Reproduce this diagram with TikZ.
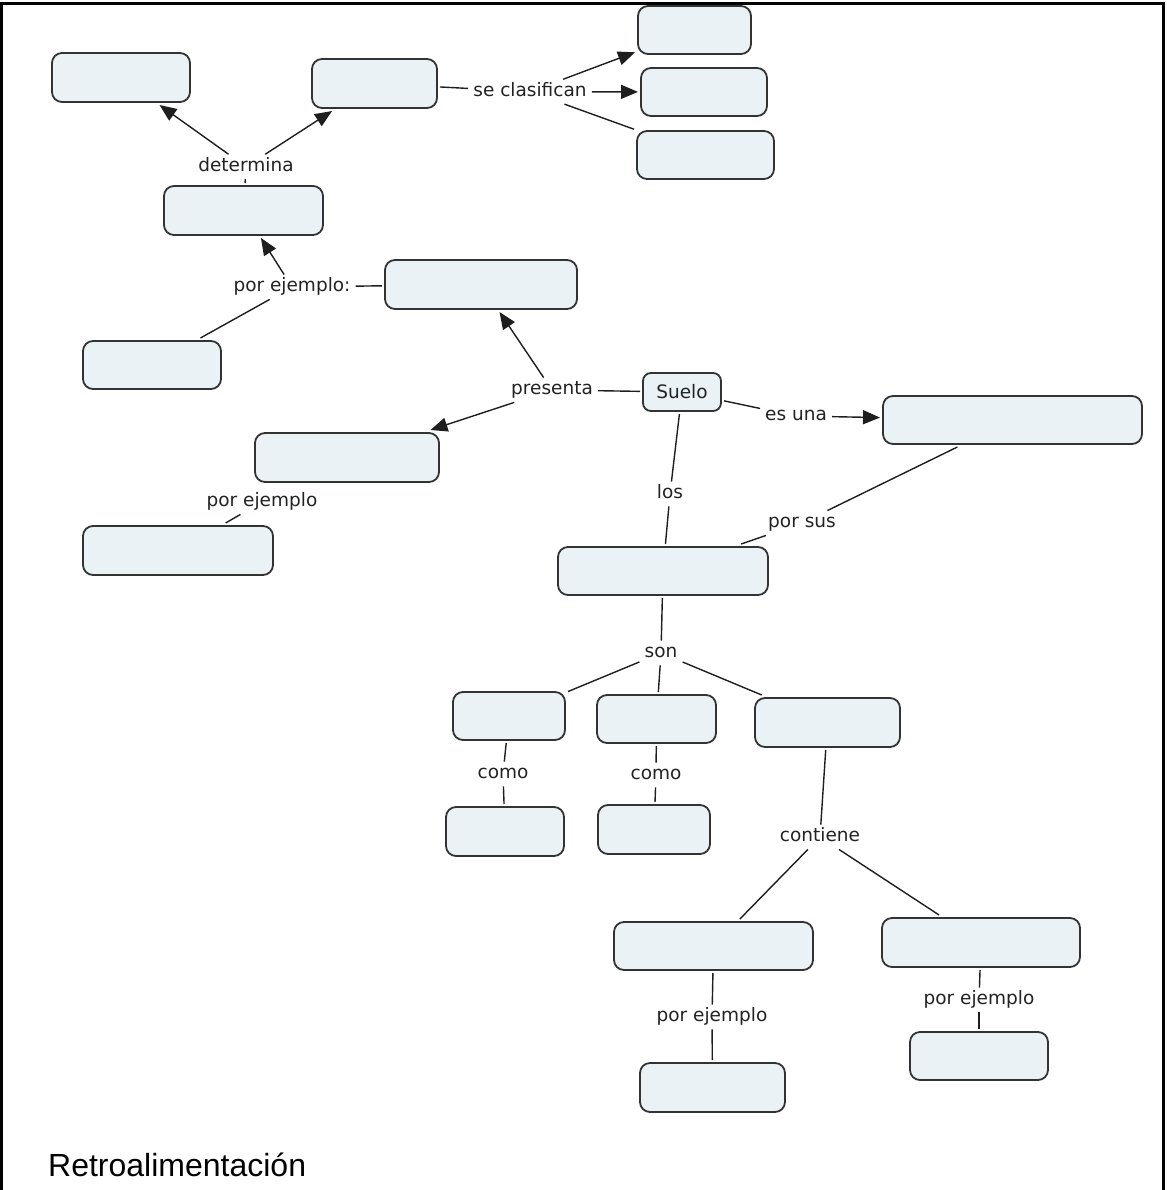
\documentclass[tikz,border=0pt]{standalone}
\usepackage{fontspec}
\setmainfont{DejaVu Sans}
\newfontfamily\arialfont{Liberation Sans}
\usetikzlibrary{arrows.meta}
\definecolor{boxfill}{HTML}{EBF2F5}
\definecolor{boxline}{HTML}{333333}
\definecolor{conn}{HTML}{1E1E1E}
\definecolor{lbltext}{HTML}{222222}
\begin{document}
\begin{tikzpicture}[x=1pt,y=-1pt,
  concept/.style={draw=boxline, fill=boxfill, line width=1.8pt, rounded corners=10pt,
    outer sep=3pt, inner sep=0pt, text=lbltext, font=\fontsize{18.5}{22}\selectfont},
  lbl/.style={inner xsep=5pt, inner ysep=3pt, text=lbltext,
    font=\fontsize{18.5}{22}\selectfont, text height=14pt, text depth=4.5pt},
  link/.style={draw=conn, line width=1.4pt},
  arr/.style={link, -{Triangle[length=17pt,width=14pt]}}
]
\useasboundingbox (0,0) rectangle (1166,1190);
% frame
\draw[line width=3pt] (1.5,1190) -- (1.5,3.5) -- (1163.5,3.5) -- (1163.5,1190);

% concepts
\node[concept, minimum width=138pt, minimum height=49pt] (A)  at (121,77.5) {};
\node[concept, minimum width=125pt, minimum height=49pt] (B)  at (374.5,83.5) {};
\node[concept, minimum width=113pt, minimum height=48pt] (C1) at (694.5,30) {};
\node[concept, minimum width=126pt, minimum height=48pt] (C2) at (704,92) {};
\node[concept, minimum width=137pt, minimum height=48pt] (C3) at (705.5,155) {};
\node[concept, minimum width=159pt, minimum height=49pt] (D)  at (243.5,210.5) {};
\node[concept, minimum width=192pt, minimum height=49pt] (E)  at (481,284.5) {};
\node[concept, minimum width=138pt, minimum height=48pt] (F)  at (152,365) {};
\node[concept, minimum width=78pt,  minimum height=38pt, rounded corners=8pt] (S) at (682,392) {Suelo};
\node[concept, minimum width=259pt, minimum height=48pt] (G)  at (1012.5,420) {};
\node[concept, minimum width=184pt, minimum height=49pt] (H)  at (347,457.5) {};
\node[concept, minimum width=190pt, minimum height=49pt] (I)  at (178,550.5) {};
\node[concept, minimum width=210pt, minimum height=48pt] (J)  at (663,571) {};
\node[concept, minimum width=112pt, minimum height=48pt] (K1) at (509,716) {};
\node[concept, minimum width=119pt, minimum height=48pt] (K2) at (656.5,719) {};
\node[concept, minimum width=145pt, minimum height=49pt] (K3) at (827.5,722.5) {};
\node[concept, minimum width=118pt, minimum height=49pt] (L1) at (505,831.5) {};
\node[concept, minimum width=112pt, minimum height=49pt] (L2) at (654,829.5) {};
\node[concept, minimum width=199pt, minimum height=48pt] (M1) at (713.5,946) {};
\node[concept, minimum width=198pt, minimum height=49pt] (M2) at (981,942.5) {};
\node[concept, minimum width=145pt, minimum height=49pt] (N1) at (712.5,1087.5) {};
\node[concept, minimum width=138pt, minimum height=48pt] (N2) at (979,1056) {};

% linking phrases
\node[lbl] (det)    at (246,166.7) {determina};
\node[lbl] (secl)   at (530,91.7) {se clasifican};
\node[lbl] (pej1)   at (292,287) {por ejemplo:};
\node[lbl] (pres)   at (552,390) {presenta};
\node[lbl] (esuna)  at (796,416) {es una};
\node[lbl] (los)    at (670,494) {los};
\node[lbl] (porsus) at (802,523) {por sus};
\node[lbl] (pej2)   at (262,502) {por ejemplo};
\node[lbl] (son)    at (661,653) {son};
\node[lbl] (como1)  at (503,774) {como};
\node[lbl] (como2)  at (656,775) {como};
\node[lbl] (cont)   at (820,837) {contiene};
\node[lbl] (pej3)   at (712,1017) {por ejemplo};
\node[lbl] (pej4)   at (979,1000) {por ejemplo};

% connectors
\draw[arr]  (det) -- (A);
\draw[arr]  (det) -- (B);
\draw[link] (D) -- (det);
\draw[link] (B) -- (secl);
\draw[arr]  (secl) -- (C1);
\draw[arr]  (secl) -- (C2);
\draw[link] (secl) -- (C3);
\draw[arr]  (pej1) -- (D);
\draw[link] (pej1) -- (E);
\draw[link] (pej1) -- (F);
\draw[arr]  (pres) -- (E);
\draw[arr]  (pres) -- (H);
\draw[link] (S) -- (pres);
\draw[link] (S) -- (esuna);
\draw[arr]  (esuna) -- (G);
\draw[link] (S) -- (los);
\draw[link] (los) -- (J);
\draw[link] (G) -- (porsus);
\draw[link] (porsus) -- (J);
\draw[link] (pej2) -- (I);
\draw[link] (J) -- (son);
\draw[link] (son) -- (K1);
\draw[link] (son) -- (K2);
\draw[link] (son) -- (K3);
\draw[link] (K1) -- (como1);
\draw[link] (como1) -- (L1);
\draw[link] (K2) -- (como2);
\draw[link] (como2) -- (L2);
\draw[link] (K3) -- (cont);
\draw[link] (cont) -- (M1);
\draw[link] (cont) -- (M2);
\draw[link] (M1) -- (pej3);
\draw[link] (pej3) -- (N1);
\draw[link] (M2) -- (pej4);
\draw[link] (pej4) -- (N2);

% caption
\node[anchor=base west, inner sep=0pt, font=\arialfont\fontsize{32}{38}\selectfont] (retro) at (48,1176) {Retroalimentación};
\end{tikzpicture}
\end{document}
